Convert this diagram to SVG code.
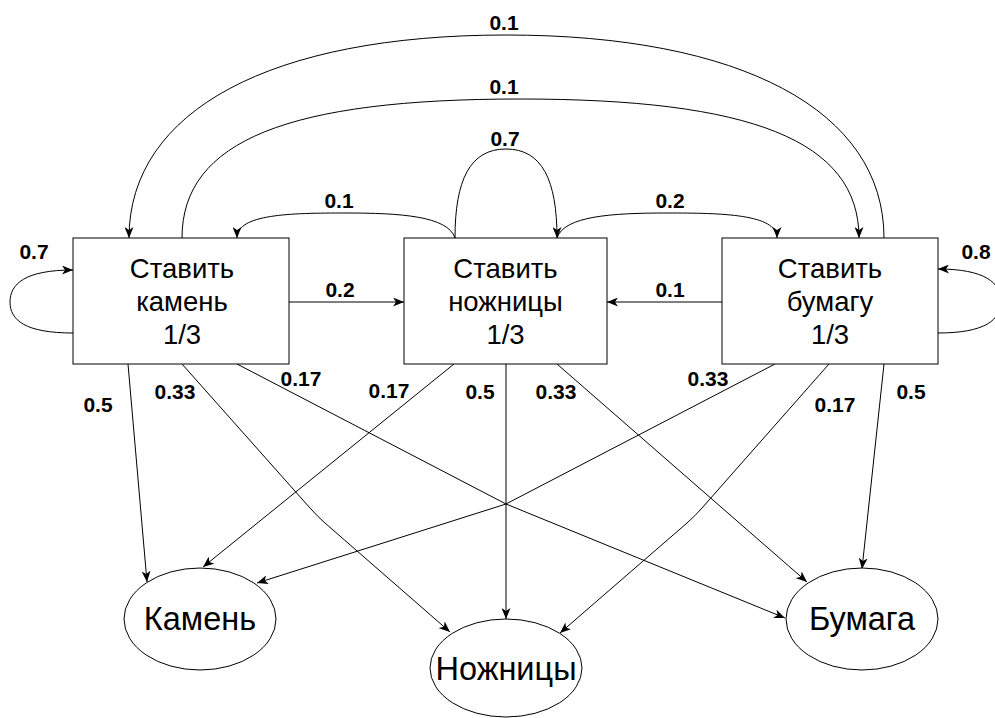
<svg xmlns="http://www.w3.org/2000/svg" width="995" height="718" viewBox="0 0 995 718">
  <style>
    .box { fill: #ffffff; stroke: #000000; stroke-width: 1; }
    .state { fill: #ffffff; stroke: #000000; stroke-width: 1; }
    .edge { fill: none; stroke: #000000; stroke-width: 1; }
    .arrow { marker-end: url(#arrowhead); }
    .boxtext { font-family: "Liberation Sans", Arial, Helvetica, sans-serif; font-size: 27.5px; fill: #000000; text-anchor: middle; }
    .statetext { font-family: "Liberation Sans", Arial, Helvetica, sans-serif; font-size: 32.5px; fill: #000000; text-anchor: middle; }
    .lbl { font-family: "Liberation Sans", Arial, Helvetica, sans-serif; font-size: 21px; font-weight: bold; fill: #000000; text-anchor: middle; }
  </style>
  <defs>
    <marker id="arrowhead" viewBox="0 0 11 9" refX="11" refY="4.5" markerWidth="11" markerHeight="9" markerUnits="userSpaceOnUse" orient="auto">
      <path d="M0,0 L11,4.5 L0,9 L3,4.5 z" fill="#000000"/>
    </marker>
  </defs>
  <rect width="995" height="718" fill="#ffffff"/>

  <!-- transitions between states and emissions -->
  <g id="connectors">
    <!-- paper -> rock, outer arc -->
    <path class="edge arrow" d="M884,238 C884,110 740,35 506,35 C272,35 129,110 129,238"/>
    <text class="lbl" x="504" y="30">0.1</text>
    <!-- rock -> paper -->
    <path class="edge arrow" d="M182,238 C182,140 290,99 520,99 C750,99 859,140 859,238"/>
    <text class="lbl" x="504" y="94">0.1</text>
    <!-- scissors self loop -->
    <path class="edge arrow" d="M455,238 C455,180 470,149 506,149 C542,149 557,180 557,238"/>
    <text class="lbl" x="505" y="146">0.7</text>
    <!-- scissors -> rock -->
    <path class="edge arrow" d="M455,238 C448,216 400,213 346,213 C290,213 237,214 237,238"/>
    <text class="lbl" x="339" y="208">0.1</text>
    <!-- scissors -> paper -->
    <path class="edge arrow" d="M557,238 C564,216 612,213 667,213 C722,213 777,214 777,238"/>
    <text class="lbl" x="670" y="208">0.2</text>
    <!-- rock self loop -->
    <path class="edge arrow" d="M73,333 C25,333 10,320 10,302 C10,284 25,270 73,270"/>
    <text class="lbl" x="34" y="259">0.7</text>
    <!-- paper self loop -->
    <path class="edge arrow" d="M938,333 C985,333 1001,320 1001,301 C1001,283 985,269 938,269"/>
    <text class="lbl" x="976" y="259">0.8</text>
    <!-- rock -> scissors -->
    <path class="edge arrow" d="M289,302 L404,302"/>
    <text class="lbl" x="340" y="297">0.2</text>
    <!-- paper -> scissors -->
    <path class="edge arrow" d="M722,302 L607,302"/>
    <text class="lbl" x="670" y="297">0.1</text>

    <!-- emissions from "rock" state -->
    <path class="edge arrow" d="M128,364 L147,582"/>
    <text class="lbl" x="98" y="412">0.5</text>
    <path class="edge arrow" d="M182,364 L310,508 Q317,516 325,523 L450,632"/>
    <text class="lbl" x="175" y="399">0.33</text>
    <path class="edge arrow" d="M237,364 L506,504 L785,618"/>
    <text class="lbl" x="301" y="386">0.17</text>

    <!-- emissions from "scissors" state -->
    <path class="edge arrow" d="M454,364 L203,567"/>
    <text class="lbl" x="389" y="398">0.17</text>
    <path class="edge arrow" d="M506,364 L506,619"/>
    <text class="lbl" x="480" y="399">0.5</text>
    <path class="edge arrow" d="M557,364 L807,582"/>
    <text class="lbl" x="556" y="399">0.33</text>

    <!-- emissions from "paper" state -->
    <path class="edge arrow" d="M775,364 L506,504 L257,583"/>
    <text class="lbl" x="708" y="386">0.33</text>
    <path class="edge arrow" d="M829,364 L702,508 Q695,516 687,523 L560,633"/>
    <text class="lbl" x="835" y="412">0.17</text>
    <path class="edge arrow" d="M884,364 L862,569"/>
    <text class="lbl" x="911" y="399">0.5</text>
  </g>

  <!-- hidden states -->
  <g id="state-rock">
    <rect class="box" x="73" y="238" width="216" height="126"/>
    <text class="boxtext" x="182" y="278">Ставить</text>
    <text class="boxtext" x="182" y="311">камень</text>
    <text class="boxtext" x="182" y="344">1/3</text>
  </g>
  <g id="state-scissors">
    <rect class="box" x="404" y="238" width="203" height="126"/>
    <text class="boxtext" x="505.5" y="278">Ставить</text>
    <text class="boxtext" x="505.5" y="311">ножницы</text>
    <text class="boxtext" x="505.5" y="344">1/3</text>
  </g>
  <g id="state-paper">
    <rect class="box" x="722" y="238" width="216" height="126"/>
    <text class="boxtext" x="830" y="278">Ставить</text>
    <text class="boxtext" x="830" y="311">бумагу</text>
    <text class="boxtext" x="830" y="344">1/3</text>
  </g>

  <!-- observations -->
  <g id="obs-rock">
    <ellipse class="state" cx="200" cy="619" rx="76" ry="51"/>
    <text class="statetext" x="200" y="630">Камень</text>
  </g>
  <g id="obs-scissors">
    <ellipse class="state" cx="506" cy="668" rx="76" ry="49"/>
    <text class="statetext" x="506" y="680">Ножницы</text>
  </g>
  <g id="obs-paper">
    <ellipse class="state" cx="862" cy="619" rx="76" ry="51"/>
    <text class="statetext" x="862" y="630">Бумага</text>
  </g>
</svg>
